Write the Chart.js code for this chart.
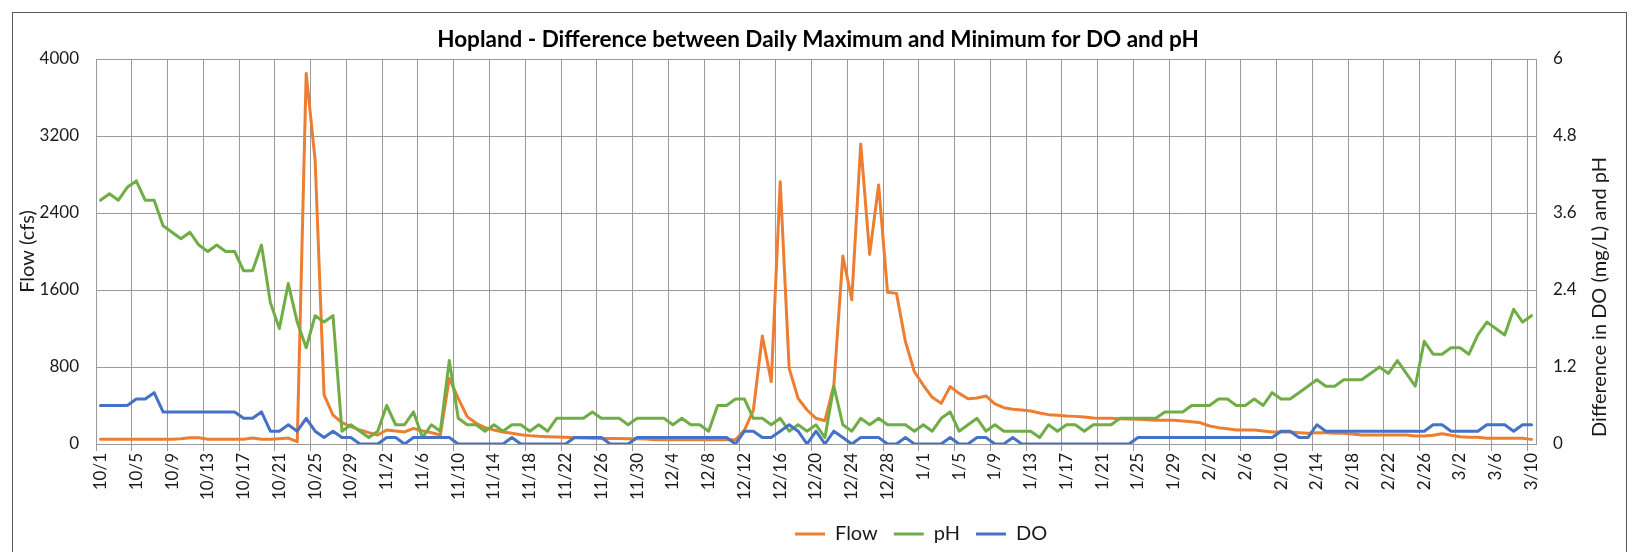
<!DOCTYPE html>
<html>
<head>
<meta charset="utf-8">
<script src="https://cdn.jsdelivr.net/npm/chart.js@4.4.1/dist/chart.umd.min.js"></script>
<style>
  html, body { margin: 0; padding: 0; background: #fff; }
  #wrap { position: relative; width: 1636px; height: 552px; }
  #frame { position: absolute; left: 12px; top: 12px; width: 1613px; height: 600px; border: 1px solid #595959; pointer-events: none; }
</style>
</head>
<body>
<div id="wrap">
  <canvas id="chart" width="1636" height="552"></canvas>
  <div id="frame"></div>
</div>
<script>
// daily categories, Oct 1 -> Mar 10
const months = [[10, 31], [11, 30], [12, 31], [1, 31], [2, 28], [3, 10]];
const days = [];
months.forEach(([m, n]) => { for (let d = 1; d <= n; d++) days.push(m + '/' + d); });

// Flow (cfs), left axis
const flow = [
  50, 50, 50, 50, 50, 50, 50, 50, 50, 55,
  65, 65, 50, 50, 50, 50, 50, 62, 50, 50,
  55, 62, 24, 3850, 2950, 510, 300, 222, 180, 145,
  118, 94, 145, 135, 125, 163, 135, 118, 94, 682,
  474, 284, 215, 170, 145, 125, 111, 97, 87, 80,
  76, 73, 69, 66, 62, 60, 58, 57, 56, 55,
  55, 52, 45, 45, 45, 45, 45, 45, 45, 45,
  45, 45, 145, 353, 1122, 648, 2725, 786, 474, 353,
  267, 242, 613, 1953, 1500, 3117, 1970, 2691, 1576, 1565,
  1063, 751, 610, 485, 422, 596, 526, 471, 478, 499,
  416, 377, 360, 353, 343, 322, 305, 298, 291, 287,
  280, 270, 267, 267, 263, 260, 256, 253, 246, 246,
  246, 239, 232, 220, 187, 170, 159, 145, 145, 145,
  135, 125, 125, 125, 118, 111, 118, 118, 111, 111,
  104, 94, 94, 94, 94, 94, 94, 83, 83, 90,
  107, 90, 76, 69, 69, 59, 59, 59, 59, 59,
  48
];

// daily max - min, right axis
const ph = [
  3.8, 3.9, 3.8, 4.0, 4.1, 3.8, 3.8, 3.4, 3.3, 3.2,
  3.3, 3.1, 3.0, 3.1, 3.0, 3.0, 2.7, 2.7, 3.1, 2.2,
  1.8, 2.5, 1.9, 1.5, 2.0, 1.9, 2.0, 0.2, 0.3, 0.2,
  0.1, 0.2, 0.6, 0.3, 0.3, 0.5, 0.1, 0.3, 0.2, 1.3,
  0.4, 0.3, 0.3, 0.2, 0.3, 0.2, 0.3, 0.3, 0.2, 0.3,
  0.2, 0.4, 0.4, 0.4, 0.4, 0.5, 0.4, 0.4, 0.4, 0.3,
  0.4, 0.4, 0.4, 0.4, 0.3, 0.4, 0.3, 0.3, 0.2, 0.6,
  0.6, 0.7, 0.7, 0.4, 0.4, 0.3, 0.4, 0.2, 0.3, 0.2,
  0.3, 0.1, 0.9, 0.3, 0.2, 0.4, 0.3, 0.4, 0.3, 0.3,
  0.3, 0.2, 0.3, 0.2, 0.4, 0.5, 0.2, 0.3, 0.4, 0.2,
  0.3, 0.2, 0.2, 0.2, 0.2, 0.1, 0.3, 0.2, 0.3, 0.3,
  0.2, 0.3, 0.3, 0.3, 0.4, 0.4, 0.4, 0.4, 0.4, 0.5,
  0.5, 0.5, 0.6, 0.6, 0.6, 0.7, 0.7, 0.6, 0.6, 0.7,
  0.6, 0.8, 0.7, 0.7, 0.8, 0.9, 1.0, 0.9, 0.9, 1.0,
  1.0, 1.0, 1.1, 1.2, 1.1, 1.3, 1.1, 0.9, 1.6, 1.4,
  1.4, 1.5, 1.5, 1.4, 1.7, 1.9, 1.8, 1.7, 2.1, 1.9,
  2.0
];

const dissolvedOxygen = [
  0.6, 0.6, 0.6, 0.6, 0.7, 0.7, 0.8, 0.5, 0.5, 0.5,
  0.5, 0.5, 0.5, 0.5, 0.5, 0.5, 0.4, 0.4, 0.5, 0.2,
  0.2, 0.3, 0.2, 0.4, 0.2, 0.1, 0.2, 0.1, 0.1, 0,
  0, 0, 0.1, 0.1, 0, 0.1, 0.1, 0.1, 0.1, 0.1,
  0, 0, 0, 0, 0, 0, 0.1, 0, 0, 0,
  0, 0, 0, 0.1, 0.1, 0.1, 0.1, 0, 0, 0,
  0.1, 0.1, 0.1, 0.1, 0.1, 0.1, 0.1, 0.1, 0.1, 0.1,
  0.1, 0, 0.2, 0.2, 0.1, 0.1, 0.2, 0.3, 0.2, 0,
  0.2, 0, 0.2, 0.1, 0, 0.1, 0.1, 0.1, 0, 0,
  0.1, 0, 0, 0, 0, 0.1, 0, 0, 0.1, 0.1,
  0, 0, 0.1, 0, 0, 0, 0, 0, 0, 0,
  0, 0, 0, 0, 0, 0, 0.1, 0.1, 0.1, 0.1,
  0.1, 0.1, 0.1, 0.1, 0.1, 0.1, 0.1, 0.1, 0.1, 0.1,
  0.1, 0.1, 0.2, 0.2, 0.1, 0.1, 0.3, 0.2, 0.2, 0.2,
  0.2, 0.2, 0.2, 0.2, 0.2, 0.2, 0.2, 0.2, 0.2, 0.3,
  0.3, 0.2, 0.2, 0.2, 0.2, 0.3, 0.3, 0.3, 0.2, 0.3,
  0.3
];

const flowTicks = [0, 800, 1600, 2400, 3200, 4000];
const diffTicks = [0, 1.2, 2.4, 3.6, 4.8, 6];

const FONT = 'Lato, "Open Sans", sans-serif';
const gridColor = '#999999';
const textColor = '#1a1a1a';

Chart.defaults.font.family = FONT;
Chart.defaults.color = textColor;

// Excel draws the right axis title bottom-to-top, Chart.js does the opposite
const rightTitle = {
  id: 'rightTitle',
  afterDraw(chart) {
    const ctx = chart.ctx;
    ctx.save();
    ctx.translate(1600, 297);
    ctx.rotate(-Math.PI / 2);
    ctx.font = '20px ' + FONT;
    ctx.fillStyle = textColor;
    ctx.textAlign = 'center';
    ctx.textBaseline = 'middle';
    ctx.fillText('Difference in DO (mg/L) and pH', 0, 0);
    ctx.restore();
  }
};

// legend sits right of centre (and a touch lower) in the original
const legendShift = {
  id: 'legendShift',
  afterLayout(chart) {
    const lg = chart.legend;
    const pad = lg.options.labels.padding;
    const cur = (lg.left + pad + lg.right - lg.lineWidths[0]) / 2;
    lg.left += 2 * (795 - cur);
    lg.top += 2;
    lg.bottom += 2;
  }
};

const every4 = (ctx) => ctx.index % 4 === 0 ? gridColor : 'rgba(0,0,0,0)';

new Chart(document.getElementById('chart'), {
  type: 'line',
  data: {
    labels: days,
    datasets: [{
      label: 'Flow',
      data: flow,
      yAxisID: 'y',
      borderColor: '#ED7D31',
      backgroundColor: '#ED7D31',
      order: 3
    }, {
      label: 'pH',
      data: ph,
      yAxisID: 'y1',
      borderColor: '#70AD47',
      backgroundColor: '#70AD47',
      order: 2
    }, {
      label: 'DO',
      data: dissolvedOxygen,
      yAxisID: 'y1',
      borderColor: '#4472C4',
      backgroundColor: '#4472C4',
      order: 1
    }]
  },
  options: {
    responsive: false,
    animation: false,
    layout: { padding: 0 },
    elements: {
      // point borderWidth only feeds the legend line
      point: { radius: 0, pointStyle: 'line', borderWidth: 3 },
      line: { borderWidth: 3, tension: 0, borderJoinStyle: 'round', borderCapStyle: 'round' }
    },
    plugins: {
      title: {
        display: true,
        text: 'Hopland - Difference between Daily Maximum and Minimum for DO and pH',
        color: '#000',
        font: { size: 22.5, weight: 'bold' },
        padding: { top: 26.5, bottom: 5.5 }
      },
      legend: {
        position: 'bottom',
        labels: {
          usePointStyle: true,
          pointStyleWidth: 30,
          padding: 16,
          font: { size: 20 },
          sort: (a, b) => a.datasetIndex - b.datasetIndex
        }
      },
      tooltip: { enabled: false }
    },
    scales: {
      x: {
        type: 'category',
        offset: true,
        grid: { offset: true, color: every4, tickColor: every4, tickLength: 7 },
        border: { color: gridColor },
        ticks: {
          autoSkip: false,
          minRotation: 90,
          maxRotation: 90,
          padding: 2,
          font: { size: 17 },
          callback: (v, i) => i % 4 === 0 ? days[i] : ''
        },
        afterFit: (s) => { s.height = 62; }
      },
      y: {
        position: 'left',
        min: 0,
        max: 4000,
        grid: { color: gridColor, drawTicks: false },
        border: { color: gridColor },
        ticks: {
          stepSize: 800,
          padding: 17,
          font: { size: 17 },
          callback: (v) => flowTicks.includes(v) ? String(v) : ''
        },
        title: {
          display: true,
          text: 'Flow (cfs)',
          font: { size: 20 },
          padding: { top: 16 }
        },
        afterFit: (s) => { s.width = 96; }
      },
      y1: {
        position: 'right',
        min: 0,
        max: 6,
        grid: { drawOnChartArea: false, drawTicks: false },
        border: { color: gridColor },
        ticks: {
          stepSize: 1.2,
          padding: 17,
          font: { size: 17 },
          callback: (v) => {
            const r = Math.round(v * 10) / 10;
            return diffTicks.includes(r) ? String(r) : '';
          }
        },
        afterFit: (s) => { s.width = 100; }
      }
    }
  },
  plugins: [rightTitle, legendShift]
});
</script>
</body>
</html>
